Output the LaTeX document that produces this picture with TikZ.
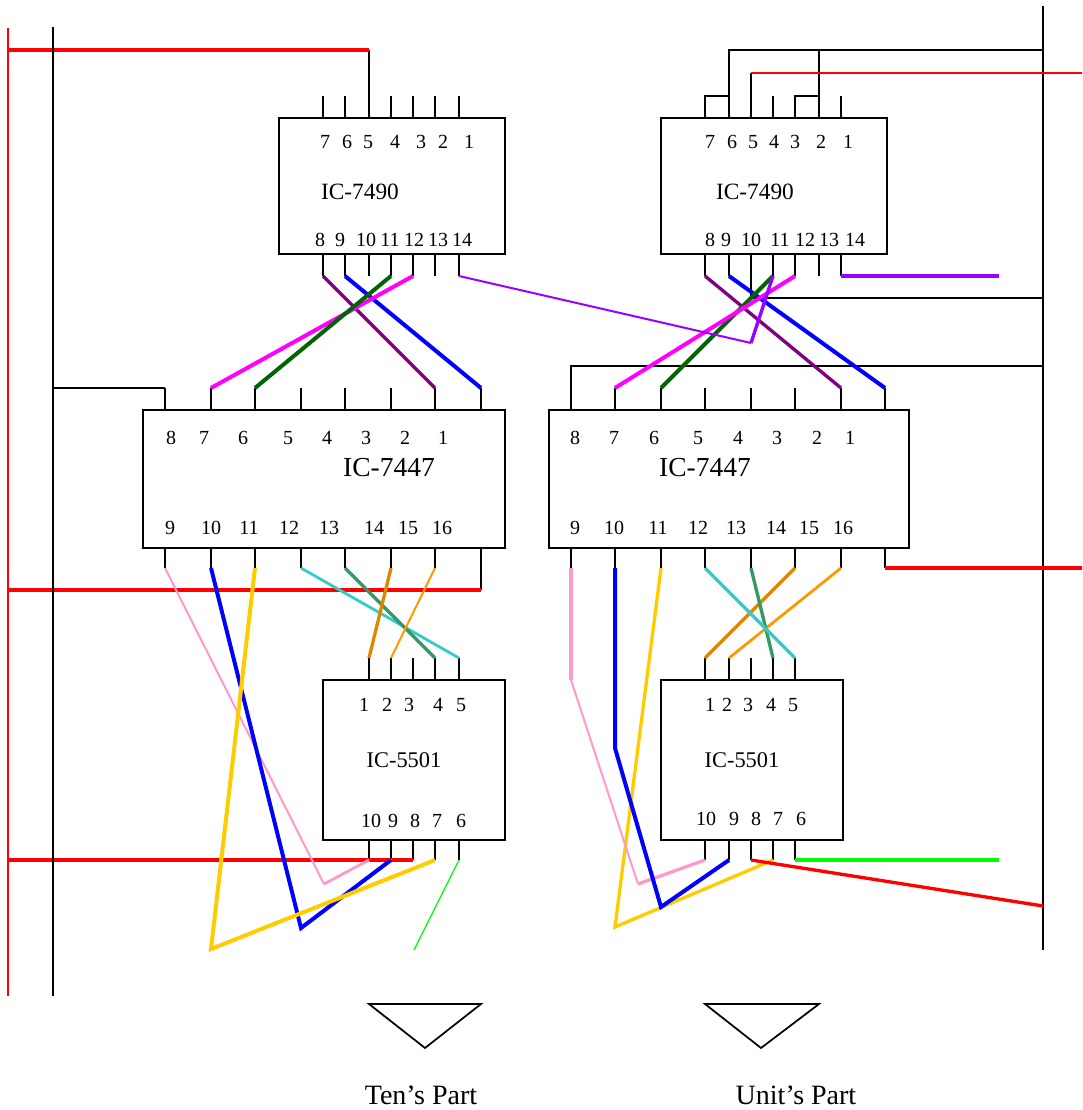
\documentclass[tikz,border=0pt]{standalone}
\usepackage{fontspec}
\setmainfont{Liberation Serif}
\definecolor{wred}{HTML}{FF0000}
\definecolor{wpurple}{HTML}{800080}
\definecolor{wblue}{HTML}{0000FF}
\definecolor{wdgreen}{HTML}{006400}
\definecolor{wmag}{HTML}{FF00FF}
\definecolor{wviolet}{HTML}{9900FF}
\definecolor{wpink}{HTML}{FF99CC}
\definecolor{wyellow}{HTML}{FFCC00}
\definecolor{wteal}{HTML}{33CCCC}
\definecolor{wsea}{HTML}{339966}
\definecolor{wdorange}{HTML}{DD8800}
\definecolor{worange}{HTML}{FF9900}
\definecolor{wgreen}{HTML}{00FF00}
\tikzset{
  blk/.style={draw=black,line width=1.3pt},
  pinlabel/.style={inner sep=0pt,font=\fontsize{15}{17}\selectfont},
  iclabel/.style={inner sep=0pt,font=\fontsize{17.5}{19}\selectfont},
  ic47/.style={inner sep=0pt,font=\fontsize{20.6}{22}\selectfont},
  ic55/.style={inner sep=0pt,font=\fontsize{16.8}{18}\selectfont},
  caption/.style={inner sep=0pt,font=\fontsize{21}{23}\selectfont},
  w1/.style={line width=0.9pt},
  w2/.style={line width=1.5pt},
  w25/.style={line width=2.1pt},
  w3/.style={line width=2.5pt},
  w4/.style={line width=3pt}
}
\begin{document}
\begin{tikzpicture}[x=0.75pt,y=-0.75pt]
\path[use as bounding box] (0,0) rectangle (1082,1110);
% rails
\coordinate (redtop) at (8,28); \coordinate (redbot) at (8,996);
\coordinate (blktop) at (53,27); \coordinate (blkbot) at (53,996);
\coordinate (railtop) at (1043,6); \coordinate (railbot) at (1043,950);
\draw[wred,w2] (redtop) -- (redbot);
% IC boxes
\node[draw=black,line width=1.3pt,inner sep=0pt,minimum width=169.5pt,minimum height=102pt] (A) at (392,186) {};
\node[draw=black,line width=1.3pt,inner sep=0pt,minimum width=169.5pt,minimum height=102pt] (B) at (774,186) {};
\node[draw=black,line width=1.3pt,inner sep=0pt,minimum width=271.5pt,minimum height=103.5pt] (C) at (324,479) {};
\node[draw=black,line width=1.3pt,inner sep=0pt,minimum width=270pt,minimum height=103.5pt] (D) at (729,479) {};
\node[draw=black,line width=1.3pt,inner sep=0pt,minimum width=136.5pt,minimum height=120pt] (E) at (414,760) {};
\node[draw=black,line width=1.3pt,inner sep=0pt,minimum width=136.5pt,minimum height=120pt] (F) at (752,760) {};
% pin stubs
\foreach \n/\x in {7/323,6/345,5/369,4/391,3/413,2/435,1/459} {
  \coordinate (At\n) at (\x,96); \coordinate (Atb\n) at (\x,118); }
\foreach \n/\x in {8/323,9/345,10/369,11/391,12/413,13/435,14/459} {
  \coordinate (Ab\n) at (\x,276); \coordinate (Abb\n) at (\x,254);
  \draw[blk] (Abb\n) -- (Ab\n); }
\foreach \n in {7,6,4,3,2,1} \draw[blk] (Atb\n) -- (At\n);
\foreach \n/\x in {7/705,6/729,5/751,4/773,3/795,2/819,1/841} {
  \coordinate (Bt\n) at (\x,96); \coordinate (Btb\n) at (\x,118); }
\foreach \n/\x in {8/705,9/729,10/751,11/773,12/795,13/819,14/841} {
  \coordinate (Bb\n) at (\x,276); \coordinate (Bbb\n) at (\x,254);
  \draw[blk] (Bbb\n) -- (Bb\n); }
\foreach \n in {4,1} \draw[blk] (Btb\n) -- (Bt\n);
\foreach \n/\x in {8/165,7/211,6/255,5/301,4/345,3/391,2/435,1/481} {
  \coordinate (Ct\n) at (\x,388); \coordinate (Ctb\n) at (\x,410);
  \draw[blk] (Ctb\n) -- (Ct\n); }
\foreach \n/\x in {9/165,10/211,11/255,12/301,13/345,14/391,15/435,16/481} {
  \coordinate (Cb\n) at (\x,568); \coordinate (Cbb\n) at (\x,548);
  \draw[blk] (Cbb\n) -- (Cb\n); }
\foreach \n/\x in {8/571,7/615,6/661,5/705,4/751,3/795,2/841,1/885} {
  \coordinate (Dt\n) at (\x,388); \coordinate (Dtb\n) at (\x,410);
  \draw[blk] (Dtb\n) -- (Dt\n); }
\foreach \n/\x in {9/571,10/615,11/661,12/705,13/751,14/795,15/841,16/885} {
  \coordinate (Db\n) at (\x,568); \coordinate (Dbb\n) at (\x,548);
  \draw[blk] (Dbb\n) -- (Db\n); }
\foreach \n/\x in {1/369,2/391,3/413,4/435,5/459} {
  \coordinate (Et\n) at (\x,658); \coordinate (Etb\n) at (\x,680);
  \draw[blk] (Etb\n) -- (Et\n); }
\foreach \n/\x in {10/369,9/391,8/413,7/435,6/459} {
  \coordinate (Eb\n) at (\x,860); \coordinate (Ebb\n) at (\x,840);
  \draw[blk] (Ebb\n) -- (Eb\n); }
\foreach \n/\x in {1/705,2/729,3/751,4/773,5/795} {
  \coordinate (Ft\n) at (\x,658); \coordinate (Ftb\n) at (\x,680);
  \draw[blk] (Ftb\n) -- (Ft\n); }
\foreach \n/\x in {10/705,9/729,8/751,7/773,6/795} {
  \coordinate (Fb\n) at (\x,860); \coordinate (Fbb\n) at (\x,840);
  \draw[blk] (Fbb\n) -- (Fb\n); }
% pin numbers
\foreach \n/\x in {7/325,6/347,5/368,4/395,3/421,2/443,1/469} \node[pinlabel] (Al\n) at (\x,142) {\n};
\foreach \n/\x in {8/320,9/340,10/366,11/390,12/414,13/438,14/462} \node[pinlabel] (Al\n) at (\x,240) {\n};
\foreach \n/\x in {7/710,6/732,5/753,4/774,3/795,2/821,1/848} \node[pinlabel] (Bl\n) at (\x,142) {\n};
\foreach \n/\x in {8/710,9/726,10/751,11/780,12/805,13/829,14/855} \node[pinlabel] (Bl\n) at (\x,240) {\n};
\foreach \n/\x in {8/171,7/204,6/243,5/288,4/327,3/366,2/405,1/443} \node[pinlabel] (Cl\n) at (\x,438) {\n};
\foreach \n/\x in {9/170,10/211,11/249,12/289,13/329,14/374,15/408,16/442} \node[pinlabel] (Cl\n) at (\x,528) {\n};
\foreach \n/\x in {8/575,7/614,6/654,5/698,4/738,3/777,2/817,1/850} \node[pinlabel] (Dl\n) at (\x,438) {\n};
\foreach \n/\x in {9/575,10/614,11/658,12/698,13/736,14/776,15/809,16/843} \node[pinlabel] (Dl\n) at (\x,528) {\n};
\foreach \n/\x in {1/364,2/387,3/409,4/438,5/461} \node[pinlabel] (El\n) at (\x,705) {\n};
\foreach \n/\x in {10/371,9/393,8/415,7/437,6/461} \node[pinlabel] (El\n) at (\x,821) {\n};
\foreach \n/\x in {1/710,2/727,3/748,4/771,5/793} \node[pinlabel] (Fl\n) at (\x,705) {\n};
\foreach \n/\x in {10/706,9/734,8/756,7/778,6/801} \node[pinlabel] (Fl\n) at (\x,819) {\n};
% chip names
\node[iclabel] (An) at (360,192) {IC-7490};
\node[iclabel] (Bn) at (755,192) {IC-7490};
\node[ic47] (Cn) at (389,468) {IC-7447};
\node[ic47] (Dn) at (705,468) {IC-7447};
\node[ic55] (En) at (404,760) {IC-5501};
\node[ic55] (Fn) at (742,760) {IC-5501};
% power wiring, tens
\coordinate (redA) at (8,50); \coordinate (cornerA) at (369,50);
\coordinate (blkC) at (53,388);
\coordinate (redC0) at (8,590); \coordinate (redC1) at (481,590);
\coordinate (redE0) at (8,860);
\draw[blk] (Atb5) -- (cornerA);
\draw[blk] (Ct8) -- (blkC);
\draw[blk] (Cb16) -- (redC1);
\draw[wred,w4] (redA) -- (cornerA);
\draw[wred,w3] (redC0) -- (redC1);
\draw[wred,w3] (redE0) -- (Eb8);
\draw[blk] (blktop) -- (blkbot);
\draw[blk] (railtop) -- (railbot);
% power wiring, units
\coordinate (b96a) at (729,96); \coordinate (b50a) at (729,50);
\coordinate (b96b) at (819,96); \coordinate (b50b) at (819,50);
\coordinate (r50) at (1043,50);
\coordinate (b73) at (751,73); \coordinate (r73) at (1082,73);
\coordinate (b298) at (751,298); \coordinate (r298) at (1043,298);
\coordinate (b366) at (571,366); \coordinate (r366) at (1043,366);
\coordinate (r568) at (1082,568); \coordinate (r906) at (1043,906);
\coordinate (v999) at (999,276); \coordinate (g999) at (999,860);
\draw[blk] (Btb7) -- (Bt7) -- (b96a);
\draw[blk] (Btb6) -- (b50a) -- (r50);
\draw[blk] (Btb3) -- (Bt3) -- (b96b);
\draw[blk] (Btb2) -- (b50b);
\draw[blk] (Btb5) -- (b73);
\draw[wred,w2] (b73) -- (r73);
\draw[blk] (Bbb10) -- (b298) -- (r298);
\draw[blk] (Dtb8) -- (b366) -- (r366);
\draw[wred,w3] (Db16) -- (r568);
% 7490 to 7447, tens
\draw[wpurple,w3] (Ab8) -- (Ct2);
\draw[wblue,w4] (Ab9) -- (Ct1);
\draw[wmag,w4] (Ab12) -- (Ct7);
\draw[wdgreen,w4] (Ab11) -- (Ct6);
% 7490 to 7447, units
\draw[wpurple,w3] (Bb8) -- (Dt2);
\draw[wblue,w4] (Bb9) -- (Dt1);
\draw[wdgreen,w4] (Bb11) -- (Dt6);
\draw[wmag,w4] (Bb12) -- (Dt7);
% carry
\coordinate (vk) at (751,343);
\draw[wviolet,w2] (Ab14) -- (vk);
\draw[wviolet,w3] (vk) -- (Bb11);
\draw[wviolet,w4] (Bb14) -- (v999);
% 7447 to 5501, tens
\coordinate (pk1) at (324,884); \coordinate (bl1) at (301,928); \coordinate (yl1) at (211,949);
\draw[wteal,w25] (Cb12) -- (Et5);
\draw[wsea,w3] (Cb13) -- (Et4);
\draw[wdorange,w3] (Cb14) -- (Et1);
\draw[worange,w2] (Cb15) -- (Et2);
\draw[wpink,w2] (Cb9) -- (pk1);
\draw[wpink,w25] (pk1) -- (Eb10);
\draw[wblue,w4] (Cb10) -- (bl1) -- (Eb9);
\draw[wyellow,w4] (Cb11) -- (yl1) -- (Eb7);
\coordinate (gend) at (414,950);
\draw[wgreen,w1] (Eb6) -- (gend);
% 7447 to 5501, units
\coordinate (pk2) at (571,680); \coordinate (pk3) at (638,884);
\coordinate (bl2) at (615,748); \coordinate (bl3) at (661,907);
\coordinate (yl2) at (615,927);
\draw[wdorange,w3] (Db14) -- (Ft1);
\draw[worange,w25] (Db15) -- (Ft2);
\draw[wsea,w3] (Db13) -- (Ft4);
\draw[wteal,w3] (Db12) -- (Ft5);
\draw[wyellow,w3] (Db11) -- (yl2) -- (Fb7);
\draw[wpink,w3] (Db9) -- (pk2);
\draw[wpink,w2] (pk2) -- (pk3);
\draw[wpink,w3] (pk3) -- (Fb10);
\draw[wblue,w4] (Db10) -- (bl2) -- (bl3) -- (Fb9);
\draw[wred,w3] (Fb8) -- (r906);
\draw[wgreen,w4] (Fb6) -- (g999);
% displays
\coordinate (t1a) at (369,1004); \coordinate (t1b) at (481,1004); \coordinate (t1c) at (425,1048);
\coordinate (t2a) at (705,1004); \coordinate (t2b) at (819,1004); \coordinate (t2c) at (761,1048);
\draw[blk] (t1a) -- (t1b) -- (t1c) -- cycle;
\draw[blk] (t2a) -- (t2b) -- (t2c) -- cycle;
\node[caption] (ten) at (421,1095) {Ten’s Part};
\node[caption] (unit) at (796,1095) {Unit’s Part};
\end{tikzpicture}
\end{document}
